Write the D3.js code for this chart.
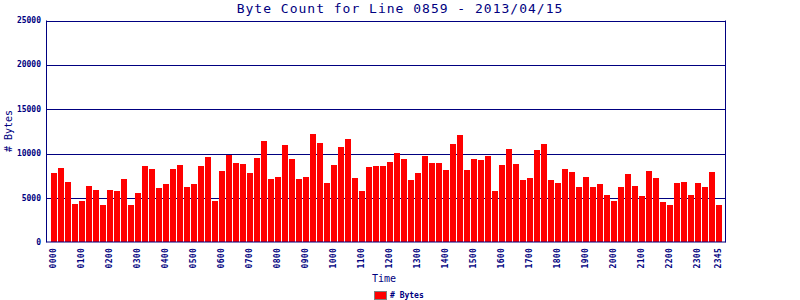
<!DOCTYPE html>
<html>
<head>
<meta charset="utf-8">
<script src="https://cdn.jsdelivr.net/npm/d3@7/dist/d3.min.js"></script>
<style>
  body { margin: 0; background: #fff; }
  svg { display: block; }
  text { font-family: "DejaVu Sans Mono", "Liberation Mono", monospace; fill: #000080; }
</style>
</head>
<body>
<svg id="chart"></svg>
<script>
// Heures (tranches de 15 minutes)
const slots = [];
for (let h = 0; h < 24; h++) {
    for (let m = 0; m < 60; m += 15) {
        slots.push(String(h).padStart(2, '0') + String(m).padStart(2, '0'));
    }
}

// Octets par tranche
const bytes = [
    7800, 8370, 6790, 4320, 4650, 6340, 5890, 4200,
    5890, 5780, 7130, 4200, 5560, 8600, 8260, 6120,
    6570, 8260, 8710, 6230, 6570, 8600, 9610, 4650,
    8030, 9830, 8930, 8820, 7810, 9500, 11410, 7130,
    7360, 10960, 9380, 7130, 7360, 12200, 11190, 6680,
    8710, 10740, 11640, 7240, 5780, 8480, 8600, 8600,
    9050, 10060, 9380, 7020, 7810, 9720, 8930, 8930,
    8150, 11070, 12090, 8150, 9380, 9270, 9720, 5780,
    8710, 10510, 8820, 7020, 7240, 10400, 11070, 7020,
    6680, 8260, 7920, 6230, 7360, 6230, 6570, 5330,
    4650, 6230, 7700, 6340, 5220, 8030, 7240, 4540,
    4200, 6680, 6790, 5330, 6680, 6230, 7920, 4200
];

const yTicks = [0, 5000, 10000, 15000, 20000, 25000];
const xLabels = slots.filter(s => s.endsWith('00')).concat(['2345']);

const width = 800;
const height = 300;
const plotLeft = 46.5, plotRight = 725.5, plotTop = 20.5, plotBottom = 242.5;

const svg = d3.select('#chart')
    .attr('width', width)
    .attr('height', height);

const x = d3.scaleBand()
    .domain(slots)
    .range([51, 722])
    .paddingInner(1 / 7)
    .paddingOuter(0);

const y = d3.scaleLinear()
    .domain([0, 25000])
    .range([plotBottom, plotTop]);

// Titre
svg.append('text')
    .attr('x', 400)
    .attr('y', 13)
    .attr('text-anchor', 'middle')
    .style('font-size', '13px')
    .style('letter-spacing', '1px')
    .text('Byte Count for Line 0859 - 2013/04/15');

// Lignes horizontales (derrière les barres)
svg.selectAll('line.grid')
    .data(yTicks.filter(d => d > 0))
    .enter()
    .append('line')
    .attr('x1', plotLeft)
    .attr('x2', plotRight)
    .attr('y1', d => Math.round(y(d)) + 0.5)
    .attr('y2', d => Math.round(y(d)) + 0.5)
    .style('stroke', '#000080')
    .style('stroke-width', 1);

// Barres
svg.selectAll('rect.bar')
    .data(bytes)
    .enter()
    .append('rect')
    .attr('class', 'bar')
    .attr('x', (d, i) => x(slots[i]))
    .attr('y', d => Math.round(y(d)))
    .attr('width', x.bandwidth())
    .attr('height', d => plotBottom - 0.5 - Math.round(y(d)))
    .style('fill', '#ff0000');

// Axe du bas
svg.append('line')
    .attr('x1', plotLeft).attr('x2', plotRight)
    .attr('y1', plotBottom - 0.5).attr('y2', plotBottom - 0.5)
    .style('stroke', '#000080');

svg.selectAll('text.ylab')
    .data(yTicks)
    .enter()
    .append('text')
    .attr('x', 41)
    .attr('y', d => y(d) + 2.5)
    .attr('text-anchor', 'end')
    .style('font-size', '8px')
    .style('font-weight', 'bold')
    .text(d => d);

// Cadre gauche et droit
[plotLeft, plotRight].forEach(px => {
    svg.append('line')
        .attr('x1', px).attr('x2', px)
        .attr('y1', plotTop).attr('y2', plotBottom)
        .style('stroke', '#000080');
});

// Étiquettes X
svg.selectAll('text.xlab')
    .data(xLabels)
    .enter()
    .append('text')
    .attr('transform', d => `translate(${x(d) + x.bandwidth() / 2 + 1.5},248) rotate(-90)`)
    .attr('text-anchor', 'end')
    .style('font-size', '8px')
    .style('letter-spacing', '0.3px')
    .style('font-weight', 'bold')
    .text(d => d);

// Titres des axes
svg.append('text')
    .attr('x', 384)
    .attr('y', 282)
    .attr('text-anchor', 'middle')
    .style('font-size', '10px')
    .text('Time');

svg.append('text')
    .attr('transform', 'translate(12,131) rotate(-90)')
    .attr('text-anchor', 'middle')
    .style('font-size', '10px')
    .text('# Bytes');

// Légende
svg.append('rect')
    .attr('x', 374.5)
    .attr('y', 291.5)
    .attr('width', 12)
    .attr('height', 8)
    .style('fill', '#ff0000')
    .style('stroke', '#808080');

svg.append('text')
    .attr('x', 390)
    .attr('y', 298)
    .style('font-size', '8px')
    .style('font-weight', 'bold')
    .text('# Bytes');
</script>
</body>
</html>
